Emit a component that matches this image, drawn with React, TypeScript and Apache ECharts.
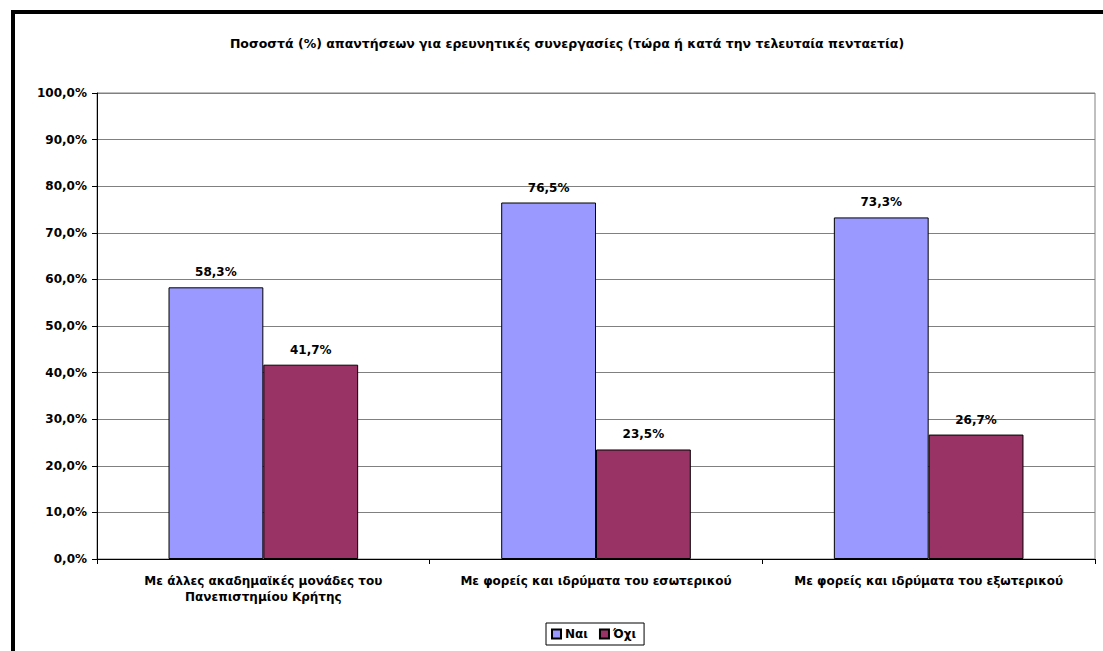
import React, { useEffect, useRef } from "react";
import * as echarts from "echarts";

const categories = [
  "Με άλλες ακαδημαϊκές μονάδες του\nΠανεπιστημίου Κρήτης",
  "Με φορείς και ιδρύματα του εσωτερικού",
  "Με φορείς και ιδρύματα του εξωτερικού",
];
const seriesNames = ["Ναι", "Όχι"];
const yesValues = [58.3, 76.5, 73.3];
const noValues = [41.7, 23.5, 26.7];
const titleText =
  "Ποσοστά (%) απαντήσεων για ερευνητικές συνεργασίες (τώρα ή κατά την τελευταία πενταετία)";

const FONT = "'DejaVu Sans', Verdana, sans-serif";
const fmt = (v: number) => v.toFixed(1).replace(".", ",") + "%";

export default function App() {
  const ref = useRef<HTMLDivElement>(null);
  useEffect(() => {
    if (!ref.current) return;
    const chart = echarts.init(ref.current, null, { renderer: "svg" });
    const labelStyle = {
      show: true,
      position: "top" as const,
      distance: 9,
      fontFamily: FONT,
      fontWeight: "bold" as const,
      fontSize: 12,
      color: "#000",
      formatter: (p: any) => fmt(p.value),
    };
    chart.setOption({
      animation: false,
      backgroundColor: "#fff",
      textStyle: { fontFamily: FONT },
      title: {
        text: titleText,
        left: 567,
        top: 37,
        textAlign: "center",
        textStyle: { fontFamily: FONT, fontWeight: "bold", fontSize: 12.5, color: "#000" },
        padding: 0,
      },
      legend: {
        data: seriesNames,
        left: 546,
        top: 623,
        orient: "horizontal",
        icon: "rect",
        itemWidth: 9,
        itemHeight: 9,
        itemGap: 11,
        borderColor: "#000",
        borderWidth: 1,
        padding: [5, 8, 5, 5],
        textStyle: { fontFamily: FONT, fontWeight: "bold", fontSize: 12, color: "#000", padding: [0, 0, 0, -1] },
      },
      grid: {
        left: 97,
        top: 93,
        right: 8,
        bottom: 92,
        show: true,
        borderColor: "#808080",
        borderWidth: 1,
        containLabel: false,
      },
      xAxis: {
        type: "category",
        data: categories,
        axisLine: { lineStyle: { color: "#000", width: 1 } },
        axisTick: { show: true, alignWithLabel: false, length: 5, lineStyle: { color: "#000" } },
        axisLabel: {
          fontFamily: FONT,
          fontWeight: "bold",
          fontSize: 12,
          color: "#000",
          margin: 14,
          lineHeight: 16,
          interval: 0,
        },
      },
      yAxis: {
        type: "value",
        min: 0,
        max: 100,
        interval: 10,
        axisLine: { show: true, lineStyle: { color: "#000", width: 1 } },
        axisTick: { show: true, length: 5, lineStyle: { color: "#000" } },
        splitLine: { show: true, lineStyle: { color: "#808080", width: 1 } },
        axisLabel: {
          fontFamily: FONT,
          fontWeight: "bold",
          fontSize: 12,
          color: "#000",
          margin: 10,
          formatter: (v: number) => fmt(v),
        },
      },
      series: [
        {
          name: seriesNames[0],
          type: "bar",
          data: yesValues,
          barGap: "0%",
          barCategoryGap: "43%",
          itemStyle: { color: "#9999FF", borderColor: "#000", borderWidth: 1 },
          label: labelStyle,
        },
        {
          name: seriesNames[1],
          type: "bar",
          data: noValues,
          barGap: "0%",
          barCategoryGap: "43%",
          itemStyle: { color: "#993366", borderColor: "#000", borderWidth: 1 },
          label: labelStyle,
        },
      ],
      graphic: [
        { type: "rect", shape: { x: 11, y: 10, width: 1092, height: 4 }, style: { fill: "#000" }, silent: true },
        { type: "rect", shape: { x: 11, y: 10, width: 4, height: 641 }, style: { fill: "#000" }, silent: true },
      ],
    });
    return () => chart.dispose();
  }, []);
  return (
    <div
      ref={ref}
      style={{ position: "absolute", left: 0, top: 0, width: 1103, height: 651 }}
    />
  );
}
